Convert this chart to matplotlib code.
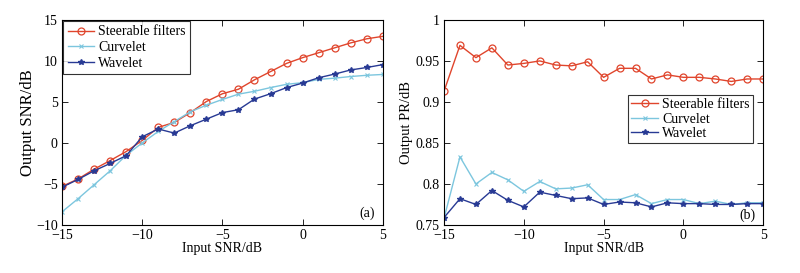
import matplotlib
matplotlib.use("Agg")
import matplotlib.pyplot as plt
import numpy as np

plt.rcParams['font.family'] = ['Liberation Serif', 'DejaVu Serif']
plt.rcParams['font.size'] = 9

snr_in = np.arange(-15, 6)

# (a) output SNR
steer_snr = [-5.3, -4.4, -3.2, -2.15, -1.05, 0.3, 1.9, 2.5, 3.7, 5.05, 6.0,
             6.55, 7.7, 8.7, 9.7, 10.4, 11.0, 11.6, 12.2, 12.7, 13.0]
curve_snr = [-8.4, -6.8, -5.1, -3.4, -1.5, 0.0, 1.4, 2.6, 3.8, 4.6, 5.3,
             5.95, 6.3, 6.75, 7.15, 7.35, 7.75, 7.9, 8.1, 8.25, 8.35]
wave_snr = [-5.4, -4.45, -3.4, -2.5, -1.55, 0.75, 1.7, 1.2, 2.1, 2.9, 3.7,
            4.05, 5.35, 6.0, 6.75, 7.3, 7.95, 8.4, 8.9, 9.2, 9.55]

# (b) output PR
steer_pr = [0.913, 0.969, 0.954, 0.966, 0.945, 0.947, 0.950, 0.945, 0.944, 0.949, 0.930,
            0.941, 0.941, 0.928, 0.933, 0.930, 0.930, 0.928, 0.925, 0.928, 0.928]
curve_pr = [0.758, 0.833, 0.800, 0.814, 0.805, 0.791, 0.803, 0.794, 0.795, 0.799, 0.781,
            0.781, 0.787, 0.776, 0.781, 0.781, 0.776, 0.779, 0.775, 0.777, 0.777]
wave_pr = [0.759, 0.782, 0.775, 0.792, 0.780, 0.772, 0.790, 0.786, 0.782, 0.783, 0.775,
           0.778, 0.777, 0.772, 0.777, 0.776, 0.776, 0.775, 0.775, 0.776, 0.776]

labels = ['Steerable filters', 'Curvelet', 'Wavelet']
red = '#e0452c'
cyan = '#7cc6de'
navy = '#283a94'

fig = plt.figure(figsize=(8, 2.73), dpi=100)
ax1 = fig.add_axes([0.0775, 0.176, 0.401, 0.751])
ax2 = fig.add_axes([0.555, 0.176, 0.399, 0.751])


def draw(ax, s, c, w):
    ax.plot(snr_in, s, color=red, lw=1.0, marker='o', ms=5, mfc='none', mec=red, mew=0.9, label=labels[0])
    ax.plot(snr_in, c, color=cyan, lw=1.0, marker='x', ms=3, mew=0.8, label=labels[1])
    ax.plot(snr_in, w, color=navy, lw=1.0, marker='*', ms=3.8, label=labels[2])
    ax.set_xlim(-15, 5)
    ax.set_xticks([-15, -10, -5, 0, 5])
    ax.tick_params(direction='in', top=True, right=True, length=4, width=0.6, labelsize=10, pad=3)
    for sp in ax.spines.values():
        sp.set_linewidth(0.8)
    ax.set_xlabel('Input SNR/dB', fontsize=10, labelpad=0)


draw(ax1, steer_snr, curve_snr, wave_snr)
ax1.set_ylim(-10, 15)
ax1.set_yticks([-10, -5, 0, 5, 10, 15])
ax1.set_ylabel('Output SNR/dB', fontsize=12, labelpad=0)
ax1.text(0.975, 0.025, '(a)', transform=ax1.transAxes, ha='right', va='bottom', fontsize=10)
leg1 = ax1.legend(loc='upper left', fontsize=10, frameon=True, fancybox=False, borderaxespad=0.1,
                  handlelength=1.9, handletextpad=0.3, labelspacing=0.2, borderpad=0.3)
leg1.get_frame().set_edgecolor('black')
leg1.get_frame().set_linewidth(0.8)

draw(ax2, steer_pr, curve_pr, wave_pr)
ax2.set_ylim(0.75, 1.0)
ax2.set_yticks([0.75, 0.8, 0.85, 0.9, 0.95, 1.0])
ax2.set_yticklabels(['0.75', '0.8', '0.85', '0.9', '0.95', '1'])
ax2.set_ylabel('Output PR/dB', fontsize=10.5, labelpad=2)
ax2.text(0.975, 0.015, '(b)', transform=ax2.transAxes, ha='right', va='bottom', fontsize=10)
leg2 = ax2.legend(loc='upper right', bbox_to_anchor=(0.968, 0.635), fontsize=10, frameon=True, fancybox=False,
                  borderaxespad=0.0, handlelength=1.9, handletextpad=0.3, labelspacing=0.1, borderpad=0.25)
leg2.get_frame().set_edgecolor('black')
leg2.get_frame().set_linewidth(0.8)

fig.savefig('out.png', dpi=100)
